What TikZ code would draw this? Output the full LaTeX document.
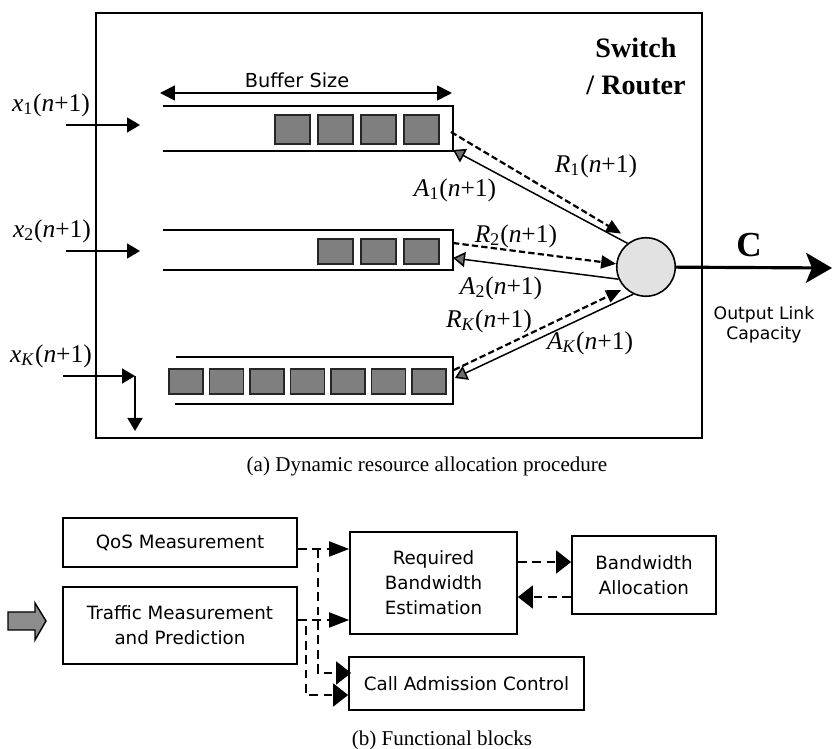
\documentclass[tikz,border=0pt]{standalone}
\usepackage{fontspec}
\setmainfont{Liberation Serif}
\newfontfamily\blkfont{DejaVu Sans}
\usetikzlibrary{arrows.meta,calc}
\definecolor{pktgray}{HTML}{7F7F7F}
\definecolor{swgray}{HTML}{E2E2E2}
\definecolor{tipgray}{HTML}{6E6E6E}
\definecolor{ingray}{HTML}{8C8C8C}
\newcommand{\sig}[2]{\textit{#1}\textsubscript{#2}(\textit{n}+1)}
\tikzset{
  qline/.style={line width=1.05pt},
  pkt/.style={draw=black!85,fill=pktgray,line width=0.6pt,inner sep=0pt,minimum width=0.7cm},
  inarr/.style={line width=1pt,-{Triangle[length=0.26cm,width=0.3cm]}},
  req/.style={line width=1.25pt,dash pattern=on 3.6pt off 1.8pt,-{Triangle[length=0.3cm,width=0.26cm]}},
  ack/.style={line width=0.85pt,-{Triangle[length=0.24cm,width=0.3cm,fill=tipgray]}},
  sig/.style={font=\fontsize{14.5}{16}\selectfont,inner sep=0pt},
  blk/.style={draw,line width=1pt,font=\blkfont\fontsize{10.4}{14.2}\selectfont,align=center,inner sep=0pt},
  fdash/.style={line width=1.05pt,dash pattern=on 5pt off 3.2pt},
  longtip/.style={fdash,-{Triangle[length=0.4cm,width=0.3cm]}},
  widetip/.style={fdash,-{Triangle[length=0.3cm,width=0.46cm]}}
}
\begin{document}
\begin{tikzpicture}[x=0.02cm,y=-0.02cm]
  \useasboundingbox (0,0) rectangle (833,749);
  \draw[line width=1.25pt] (96,13) rectangle (702,438);
  \node[font=\bfseries\fontsize{16}{21}\selectfont,align=center] (sr) at (636,66) {Switch\\/ Router};
  % buffer size
  \draw[line width=1pt,{Triangle[length=0.3cm,width=0.3cm]}-{Triangle[length=0.3cm,width=0.3cm]}] (160,93) -- (452,93);
  \node[font=\blkfont\fontsize{11}{13}\selectfont] (bs) at (297,80) {Buffer Size};
  % queues
  \draw[qline] (163,106) -- (453,106) -- (453,151) -- (163,151);
  \draw[qline] (163,230) -- (453,230) -- (453,270) -- (163,270);
  \draw[qline] (176,357) -- (453,357) -- (453,404) -- (175,404);
  \foreach \i in {0,...,3}
    \node[pkt,minimum height=0.58cm] (pa\i) at (292.5+43*\i,129.5) {};
  \foreach \i in {0,...,2}
    \node[pkt,minimum height=0.5cm] (pb\i) at (335.5+43*\i,251.5) {};
  \foreach \i in {0,...,6}
    \node[pkt,minimum width=0.68cm,minimum height=0.5cm] (pk\i) at (186+40.5*\i,381.5) {};
  % inputs
  \node[sig] (x1) at (51,105) {\sig{x}{1}};
  \node[sig] (x2) at (52,231) {\sig{x}{2}};
  \node[sig] (xk) at (51,356) {\sig{x}{\textit{K}}};
  \coordinate (i1) at (66,125);
  \coordinate (i2) at (66,251);
  \coordinate (ik) at (63,376);
  \coordinate (kc) at (135,376);
  \draw[inarr] (i1) -- (140,125);
  \draw[inarr] (i2) -- (140,251);
  \draw[inarr] (ik) -- (kc);
  \draw[inarr] (kc) -- (135,431);
  % scheduler
  \node[circle,draw,line width=0.9pt,fill=swgray,minimum size=1.17cm,inner sep=0pt] (sw) at (646,267) {};
  \coordinate (q1r) at (451,132);
  \coordinate (q1a) at (453,150);
  \coordinate (q2r) at (453,243);
  \coordinate (q2a) at (453,258);
  \coordinate (qkr) at (454,370);
  \coordinate (qka) at (455,378);
  \draw[req,shorten >=0.26cm] (q1r) -- (sw.117);
  \draw[req] (q2r) -- (sw.174);
  \draw[req,shorten >=0.08cm] (qkr) -- (sw.225);
  \draw[ack] (sw.128) -- (q1a);
  \draw[ack] (sw.204) -- (q2a);
  \draw[ack] (sw.245) -- (qka);
  \node[sig] (r1) at (596,166) {\sig{R}{1}};
  \node[sig] (a1) at (455,190) {\sig{A}{1}};
  \node[sig] (r2) at (516,236) {\sig{R}{2}};
  \node[sig] (a2) at (501,288) {\sig{A}{2}};
  \node[sig] (rk) at (489,321) {\sig{R}{\textit{K}}};
  \node[sig] (ak) at (590,343) {\sig{A}{\textit{K}}};
  % output link
  \coordinate (out) at (832,268);
  \draw[line width=1.8pt,-{Stealth[length=0.52cm,width=0.6cm,inset=0.12cm]}] (sw) -- (out);
  \node[font=\bfseries\fontsize{20}{24}\selectfont] (c) at (749,245) {C};
  \node[font=\blkfont\fontsize{9.8}{11.4}\selectfont,align=center] (olc) at (764,325) {Output Link\\Capacity};
  \node[font=\fontsize{12}{14}\selectfont] (capa) at (427,466) {(a) Dynamic resource allocation procedure};
  % functional blocks
  \draw[line width=0.8pt,fill=ingray] (8,612) -- (35,612) -- (35,603) -- (46,621) -- (35,640) -- (35,630) -- (8,630) -- cycle;
  \node[blk,minimum width=4.68cm,minimum height=0.98cm] (qos) at (180,542.5) {QoS Measurement};
  \node[blk,minimum width=4.68cm,minimum height=1.54cm] (tmp) at (180,625.5) {Traffic Measurement\\and Prediction};
  \node[blk,minimum width=3.34cm,minimum height=2.04cm] (rbe) at (433.5,583) {Required\\Bandwidth\\Estimation};
  \node[blk,minimum width=2.88cm,minimum height=1.56cm] (bwa) at (644,575) {Bandwidth\\Allocation};
  \node[blk,minimum width=4.7cm,minimum height=1.06cm] (cac) at (466.5,683.5) {Call Admission Control};
  \coordinate (qo) at ($(qos.east)+(0,6.5)$);
  \coordinate (to) at ($(tmp.east)+(0,-5.5)$);
  \draw[longtip] (qo) -- (qo -| rbe.west);
  \draw[widetip] ($(qo)+(20,0)$) |- ($(cac.west)+(3,-10.5)$);
  \draw[longtip] (to) -- (to -| rbe.west);
  \draw[widetip] (to) -- ++(8,0) |- ($(cac.west)+(0,11.5)$);
  \draw[widetip] (rbe.east |- 0,562) -- (bwa.west |- 0,562);
  \draw[widetip] (bwa.west |- 0,597) -- (rbe.east |- 0,597);
  \node[font=\fontsize{12}{14}\selectfont] (capb) at (442,740) {(b) Functional blocks};
\end{tikzpicture}
\end{document}
